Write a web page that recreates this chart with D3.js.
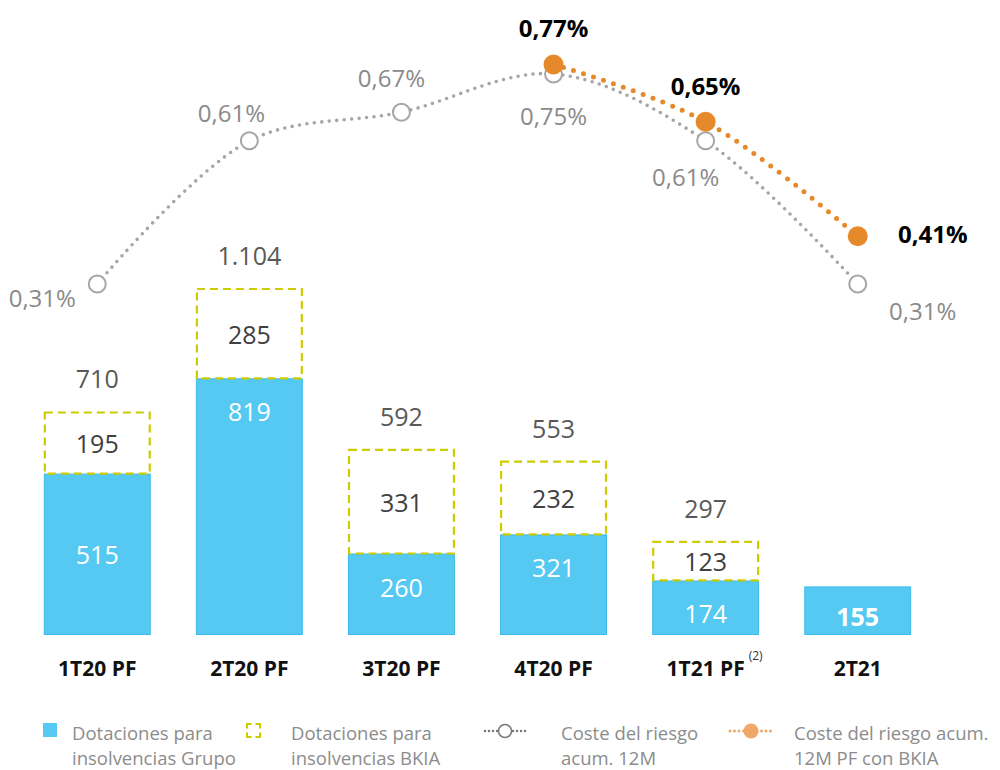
<!DOCTYPE html>
<html>
<head>
<meta charset="utf-8">
<script src="https://cdn.jsdelivr.net/npm/d3@7"></script>
<style>
  html, body { margin: 0; padding: 0; background: #fff; }
  svg { display: block; font-family: "Open Sans", "Noto Sans", sans-serif; }
</style>
</head>
<body>
<svg id="chart" width="1000" height="770"></svg>
<script>
// Quarters
const categories = ["1T20 PF", "2T20 PF", "3T20 PF", "4T20 PF", "1T21 PF", "2T21"];
// Provisions for insolvencies, Group (M€)
const grupo = [515, 819, 260, 321, 174, 155];
// Provisions for insolvencies, BKIA (M€) — null where not applicable
const bkia = [195, 285, 331, 232, 123, null];
// Totals shown above the stacked bars
const totalLabels = ["710", "1.104", "592", "553", "297", null];
// Cost of risk, 12M cumulative (%)
const costeRiesgo = [0.31, 0.61, 0.67, 0.75, 0.61, 0.31];
// Cost of risk, 12M PF with BKIA (%) — from 4T20 onwards
const costeBkiaCats = ["4T20 PF", "1T21 PF", "2T21"];
const costeBkia = [0.77, 0.65, 0.41];

const fmtPct = v => v.toFixed(2).replace(".", ",") + "%";

const BLUE = "#55c9f2", BLUE_STROKE = "#3dbbea";
const YELLOW = "#cccc00";
const GREY = "#a6a6a6";
const ORANGE = "#e5892b";

const svg = d3.select("#chart");

const x = d3.scaleBand()
  .domain(categories)
  .range([21, 934])
  .paddingInner(0.297)
  .paddingOuter(0.15);

// Bar scale (M€)
const y = d3.scaleLinear().domain([0, 1104]).range([635, 289]);
// Line scale (%)
const yp = d3.scaleLinear().domain([0.31, 0.75]).range([284, 74]);

const bw = x.bandwidth();
const cx = c => x(c) + bw / 2;

// --- Bars ---
const gBars = svg.append("g");
categories.forEach((c, i) => {
  const top = y(grupo[i]);
  gBars.append("rect")
    .attr("x", x(c) + 0.5).attr("y", top + 0.5)
    .attr("width", bw - 1).attr("height", y(0) - top - 1)
    .attr("fill", BLUE).attr("stroke", BLUE_STROKE).attr("stroke-width", 1);

  if (bkia[i] != null) {
    const t2 = y(grupo[i] + bkia[i]);
    gBars.append("rect")
      .attr("x", x(c) + 1).attr("y", t2)
      .attr("width", bw - 2).attr("height", top - t2)
      .attr("fill", "none").attr("stroke", YELLOW)
      .attr("stroke-width", 2.2).attr("stroke-dasharray", "8,5");
    // BKIA value, centred in the dashed box
    gBars.append("text")
      .attr("x", cx(c)).attr("y", (t2 + top) / 2 + 10)
      .attr("text-anchor", "middle").attr("font-size", 25)
      .attr("fill", "#404040").text(bkia[i]);
    // Total above
    gBars.append("text")
      .attr("x", cx(c)).attr("y", t2 - 24)
      .attr("text-anchor", "middle").attr("font-size", 25)
      .attr("fill", "#595959").text(totalLabels[i]);
  }

  // Group value inside the blue bar
  const last = i === categories.length - 1;
  const ly = i === 0 ? (top + y(0)) / 2 + 10 : top + 43;
  gBars.append("text")
    .attr("x", cx(c)).attr("y", last ? top + 40 : ly)
    .attr("text-anchor", "middle").attr("font-size", 25)
    .attr("font-weight", last ? 700 : 400)
    .attr("fill", "#ffffff").text(grupo[i]);
});

// --- Category axis ---
const xAxis = d3.axisBottom(x).tickSize(0).tickPadding(0);
const gx = svg.append("g").attr("transform", "translate(0,660)").call(xAxis);
gx.select(".domain").remove();
gx.selectAll("text")
  .attr("font-family", "'Open Sans', sans-serif")
  .attr("font-size", 21).attr("font-weight", 700).attr("fill", "#111")
  .attr("dy", "0.75em");
// footnote marker on 1T21 PF
gx.selectAll(".tick").filter(d => d === "1T21 PF")
  .each(function () {
    d3.select(this).append("text")
      .attr("x", 50).attr("y", 0)
      .attr("font-size", 12).attr("fill", "#333")
      .attr("font-family", "'Open Sans', sans-serif")
      .text("(2)");
  });

// --- Lines ---
const lineGrey = d3.line()
  .x((d, i) => cx(categories[i]))
  .y(d => yp(d))
  .curve(d3.curveCatmullRom.alpha(0.5));

svg.append("path")
  .datum(costeRiesgo)
  .attr("d", lineGrey)
  .attr("fill", "none").attr("stroke", GREY)
  .attr("stroke-width", 3.6).attr("stroke-linecap", "round")
  .attr("stroke-dasharray", "0,7.5");

const lineOrange = d3.line()
  .x((d, i) => cx(costeBkiaCats[i]))
  .y(d => yp(d))
  .curve(d3.curveCatmullRom.alpha(0.5));

// grey markers
svg.append("g").selectAll("circle")
  .data(costeRiesgo).join("circle")
  .attr("cx", (d, i) => cx(categories[i]))
  .attr("cy", d => yp(d))
  .attr("r", 8.5)
  .attr("fill", "#fff").attr("stroke", GREY).attr("stroke-width", 2);

svg.append("path")
  .datum(costeBkia)
  .attr("d", lineOrange)
  .attr("fill", "none").attr("stroke", ORANGE)
  .attr("stroke-width", 5).attr("stroke-linecap", "round")
  .attr("stroke-dasharray", "0,10.5");

svg.append("g").selectAll("circle")
  .data(costeBkia).join("circle")
  .attr("cx", (d, i) => cx(costeBkiaCats[i]))
  .attr("cy", d => yp(d))
  .attr("r", 10)
  .attr("fill", ORANGE);

// --- Line labels ---
// offsets relative to each marker [dx, dy]
const greyOffsets = [[-55, 23], [-18, -19], [-10, -25], [0, 51], [-20, 45], [65, 36]];
svg.append("g").selectAll("text")
  .data(costeRiesgo).join("text")
  .attr("x", (d, i) => cx(categories[i]) + greyOffsets[i][0])
  .attr("y", (d, i) => yp(d) + greyOffsets[i][1])
  .attr("text-anchor", "middle")
  .attr("font-size", 24).attr("fill", "#8a8a8a")
  .text(fmtPct);

const orangeOffsets = [[0, -27], [0, -27], [75, 7]];
svg.append("g").selectAll("text")
  .data(costeBkia).join("text")
  .attr("x", (d, i) => cx(costeBkiaCats[i]) + orangeOffsets[i][0])
  .attr("y", (d, i) => yp(d) + orangeOffsets[i][1])
  .attr("text-anchor", "middle")
  .attr("font-size", 24).attr("font-weight", 700).attr("fill", "#000")
  .text(fmtPct);

// --- Legend ---
const lg = svg.append("g").attr("font-size", 18.5).attr("fill", "#8c8c8c");
const L1 = 740, L2 = 765;
// blue box
lg.append("rect").attr("x", 43).attr("y", 723).attr("width", 14).attr("height", 14)
  .attr("fill", BLUE);
lg.append("text").attr("x", 72).attr("y", L1).text("Dotaciones para");
lg.append("text").attr("x", 72).attr("y", L2).text("insolvencias Grupo");

// dashed bracket icon: four corners
const bx0 = 247, bx1 = 260, by0 = 724, by1 = 737, k = 4.5;
lg.append("path")
  .attr("d", `M${bx0},${by0 + k}V${by0}H${bx0 + k}M${bx1 - k},${by0}H${bx1}V${by0 + k}` +
             `M${bx1},${by1 - k}V${by1}H${bx1 - k}M${bx0 + k},${by1}H${bx0}V${by1 - k}`)
  .attr("fill", "none").attr("stroke", YELLOW).attr("stroke-width", 2);
lg.append("text").attr("x", 291).attr("y", L1).text("Dotaciones para");
lg.append("text").attr("x", 291).attr("y", L2).text("insolvencias BKIA");

// grey line icon
lg.append("line").attr("x1", 485).attr("x2", 527).attr("y1", 731).attr("y2", 731)
  .attr("stroke", "#777").attr("stroke-width", 2.5).attr("stroke-linecap", "round")
  .attr("stroke-dasharray", "0,4");
lg.append("circle").attr("cx", 505).attr("cy", 731).attr("r", 6.5)
  .attr("fill", "#fff").attr("stroke", "#777").attr("stroke-width", 1.5);
lg.append("text").attr("x", 561).attr("y", L1).text("Coste del riesgo");
lg.append("text").attr("x", 561).attr("y", L2).text("acum. 12M");

// orange line icon
lg.append("line").attr("x1", 730).attr("x2", 772).attr("y1", 731).attr("y2", 731)
  .attr("stroke", "#f0a868").attr("stroke-width", 3).attr("stroke-linecap", "round")
  .attr("stroke-dasharray", "0,4.5");
lg.append("circle").attr("cx", 751).attr("cy", 731).attr("r", 7.5)
  .attr("fill", "#f0a868");
lg.append("text").attr("x", 794).attr("y", L1).text("Coste del riesgo acum.");
lg.append("text").attr("x", 794).attr("y", L2).text("12M PF con BKIA");
</script>
</body>
</html>
